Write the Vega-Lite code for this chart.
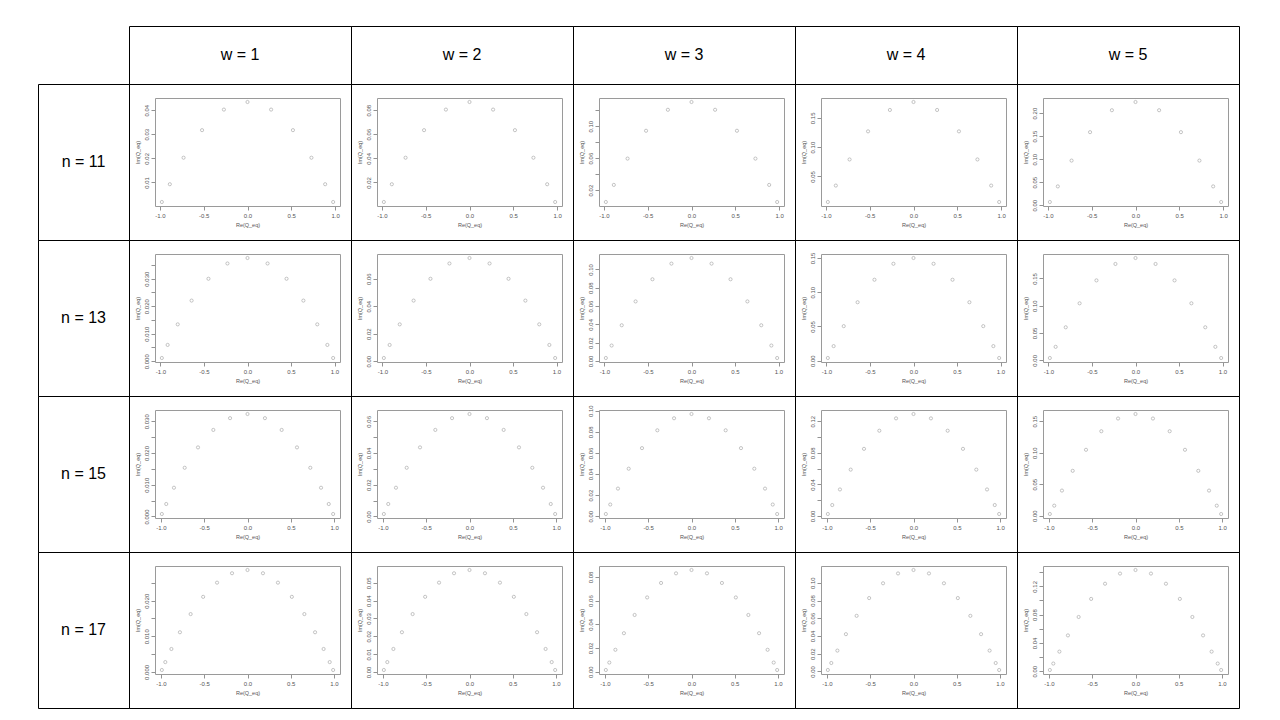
{
"$schema": "https://vega.github.io/schema/vega-lite/v6.json",
"background": "white",
"padding": {"left": 37, "top": 25, "right": 0, "bottom": 0},
"spacing": 0,
"bounds": "flush",
"columns": 6,
"datasets": {
"d11_1": [{"re":-0.9782,"im":0.00187},{"re":-0.8871,"im":0.00925},{"re":-0.7302,"im":0.02026},{"re":-0.5191,"im":0.03171},{"re":-0.2695,"im":0.04025},{"re":0,"im":0.0434},{"re":0.2695,"im":0.04025},{"re":0.5191,"im":0.03171},{"re":0.7302,"im":0.02026},{"re":0.8871,"im":0.00925},{"re":0.9782,"im":0.00187}],
"d11_2": [{"re":-0.9782,"im":0.00374},{"re":-0.8871,"im":0.01849},{"re":-0.7302,"im":0.04052},{"re":-0.5191,"im":0.06341},{"re":-0.2695,"im":0.0805},{"re":0,"im":0.0868},{"re":0.2695,"im":0.0805},{"re":0.5191,"im":0.06341},{"re":0.7302,"im":0.04052},{"re":0.8871,"im":0.01849},{"re":0.9782,"im":0.00374}],
"d11_3": [{"re":-0.9782,"im":0.00511},{"re":-0.8871,"im":0.02648},{"re":-0.7302,"im":0.05941},{"re":-0.5191,"im":0.09422},{"re":-0.2695,"im":0.12047},{"re":0,"im":0.1302},{"re":0.2695,"im":0.12047},{"re":0.5191,"im":0.09422},{"re":0.7302,"im":0.05941},{"re":0.8871,"im":0.02648},{"re":0.9782,"im":0.00511}],
"d11_4": [{"re":-0.9782,"im":0.00632},{"re":-0.8871,"im":0.03437},{"re":-0.7302,"im":0.07893},{"re":-0.5191,"im":0.12689},{"re":-0.2695,"im":0.1634},{"re":0,"im":0.177},{"re":0.2695,"im":0.1634},{"re":0.5191,"im":0.12689},{"re":0.7302,"im":0.07893},{"re":0.8871,"im":0.03437},{"re":0.9782,"im":0.00632}],
"d11_5": [{"re":-0.9782,"im":0.00705},{"re":-0.8871,"im":0.04089},{"re":-0.7302,"im":0.0969},{"re":-0.5191,"im":0.15858},{"re":-0.2695,"im":0.20617},{"re":0,"im":0.224},{"re":0.2695,"im":0.20617},{"re":0.5191,"im":0.15858},{"re":0.7302,"im":0.0969},{"re":0.8871,"im":0.04089},{"re":0.9782,"im":0.00705}],
"d13_1": [{"re":-0.9841,"im":0.00118},{"re":-0.9176,"im":0.00593},{"re":-0.8016,"im":0.0134},{"re":-0.6423,"im":0.02203},{"re":-0.4485,"im":0.02996},{"re":-0.2305,"im":0.03551},{"re":0,"im":0.0375},{"re":0.2305,"im":0.03551},{"re":0.4485,"im":0.02996},{"re":0.6423,"im":0.02203},{"re":0.8016,"im":0.0134},{"re":0.9176,"im":0.00593},{"re":0.9841,"im":0.00118}],
"d13_2": [{"re":-0.9841,"im":0.00237},{"re":-0.9176,"im":0.01185},{"re":-0.8016,"im":0.02681},{"re":-0.6423,"im":0.04406},{"re":-0.4485,"im":0.05991},{"re":-0.2305,"im":0.07102},{"re":0,"im":0.075},{"re":0.2305,"im":0.07102},{"re":0.4485,"im":0.05991},{"re":0.6423,"im":0.04406},{"re":0.8016,"im":0.02681},{"re":0.9176,"im":0.01185},{"re":0.9841,"im":0.00237}],
"d13_3": [{"re":-0.9841,"im":0.0032},{"re":-0.9176,"im":0.01682},{"re":-0.8016,"im":0.03899},{"re":-0.6423,"im":0.06504},{"re":-0.4485,"im":0.08927},{"re":-0.2305,"im":0.10635},{"re":0,"im":0.1125},{"re":0.2305,"im":0.10635},{"re":0.4485,"im":0.08927},{"re":0.6423,"im":0.06504},{"re":0.8016,"im":0.03899},{"re":0.9176,"im":0.01682},{"re":0.9841,"im":0.0032}],
"d13_4": [{"re":-0.9841,"im":0.00385},{"re":-0.9176,"im":0.02122},{"re":-0.8016,"im":0.05041},{"re":-0.6423,"im":0.08535},{"re":-0.4485,"im":0.11822},{"re":-0.2305,"im":0.14157},{"re":0,"im":0.15},{"re":0.2305,"im":0.14157},{"re":0.4485,"im":0.11822},{"re":0.6423,"im":0.08535},{"re":0.8016,"im":0.05041},{"re":0.9176,"im":0.02122},{"re":0.9841,"im":0.00385}],
"d13_5": [{"re":-0.9841,"im":0.00419},{"re":-0.9176,"im":0.02464},{"re":-0.8016,"im":0.06047},{"re":-0.6423,"im":0.10444},{"re":-0.4485,"im":0.14646},{"re":-0.2305,"im":0.17657},{"re":0,"im":0.1875},{"re":0.2305,"im":0.17657},{"re":0.4485,"im":0.14646},{"re":0.6423,"im":0.10444},{"re":0.8016,"im":0.06047},{"re":0.9176,"im":0.02464},{"re":0.9841,"im":0.00419}],
"d15_1": [{"re":-0.9879,"im":0.00078},{"re":-0.9372,"im":0.00393},{"re":-0.8482,"im":0.00906},{"re":-0.7244,"im":0.01535},{"re":-0.5709,"im":0.02177},{"re":-0.3941,"im":0.02728},{"re":-0.2012,"im":0.03099},{"re":0,"im":0.0323},{"re":0.2012,"im":0.03099},{"re":0.3941,"im":0.02728},{"re":0.5709,"im":0.02177},{"re":0.7244,"im":0.01535},{"re":0.8482,"im":0.00906},{"re":0.9372,"im":0.00393},{"re":0.9879,"im":0.00078}],
"d15_2": [{"re":-0.9879,"im":0.00155},{"re":-0.9372,"im":0.00786},{"re":-0.8482,"im":0.01812},{"re":-0.7244,"im":0.0307},{"re":-0.5709,"im":0.04355},{"re":-0.3941,"im":0.05457},{"re":-0.2012,"im":0.06199},{"re":0,"im":0.0646},{"re":0.2012,"im":0.06199},{"re":0.3941,"im":0.05457},{"re":0.5709,"im":0.04355},{"re":0.7244,"im":0.0307},{"re":0.8482,"im":0.01812},{"re":0.9372,"im":0.00786},{"re":0.9879,"im":0.00155}],
"d15_3": [{"re":-0.9879,"im":0.00208},{"re":-0.9372,"im":0.01107},{"re":-0.8482,"im":0.02617},{"re":-0.7244,"im":0.04503},{"re":-0.5709,"im":0.06455},{"re":-0.3941,"im":0.08144},{"re":-0.2012,"im":0.09286},{"re":0,"im":0.0969},{"re":0.2012,"im":0.09286},{"re":0.3941,"im":0.08144},{"re":0.5709,"im":0.06455},{"re":0.7244,"im":0.04503},{"re":0.8482,"im":0.02617},{"re":0.9372,"im":0.01107},{"re":0.9879,"im":0.00208}],
"d15_4": [{"re":-0.9879,"im":0.00249},{"re":-0.9372,"im":0.01385},{"re":-0.8482,"im":0.03359},{"re":-0.7244,"im":0.05872},{"re":-0.5709,"im":0.08505},{"re":-0.3941,"im":0.10803},{"re":-0.2012,"im":0.12366},{"re":0,"im":0.1292},{"re":0.2012,"im":0.12366},{"re":0.3941,"im":0.10803},{"re":0.5709,"im":0.08505},{"re":0.7244,"im":0.05872},{"re":0.8482,"im":0.03359},{"re":0.9372,"im":0.01385},{"re":0.9879,"im":0.00249}],
"d15_5": [{"re":-0.9879,"im":0.00268},{"re":-0.9372,"im":0.01592},{"re":-0.8482,"im":0.0399},{"re":-0.7244,"im":0.07125},{"re":-0.5709,"im":0.10465},{"re":-0.3941,"im":0.13413},{"re":-0.2012,"im":0.15433},{"re":0,"im":0.1615},{"re":0.2012,"im":0.15433},{"re":0.3941,"im":0.13413},{"re":0.5709,"im":0.10465},{"re":0.7244,"im":0.07125},{"re":0.8482,"im":0.0399},{"re":0.9372,"im":0.01592},{"re":0.9879,"im":0.00268}],
"d17_1": [{"re":-0.9906,"im":0.00054},{"re":-0.9506,"im":0.00276},{"re":-0.8802,"im":0.00644},{"re":-0.7815,"im":0.01113},{"re":-0.6577,"im":0.01623},{"re":-0.513,"im":0.02107},{"re":-0.3521,"im":0.02505},{"re":-0.1789,"im":0.02769},{"re":0,"im":0.0286},{"re":0.1789,"im":0.02769},{"re":0.3521,"im":0.02505},{"re":0.513,"im":0.02107},{"re":0.6577,"im":0.01623},{"re":0.7815,"im":0.01113},{"re":0.8802,"im":0.00644},{"re":0.9506,"im":0.00276},{"re":0.9906,"im":0.00054}],
"d17_2": [{"re":-0.9906,"im":0.00107},{"re":-0.9506,"im":0.00551},{"re":-0.8802,"im":0.01288},{"re":-0.7815,"im":0.02227},{"re":-0.6577,"im":0.03246},{"re":-0.513,"im":0.04215},{"re":-0.3521,"im":0.05011},{"re":-0.1789,"im":0.05537},{"re":0,"im":0.0572},{"re":0.1789,"im":0.05537},{"re":0.3521,"im":0.05011},{"re":0.513,"im":0.04215},{"re":0.6577,"im":0.03246},{"re":0.7815,"im":0.02227},{"re":0.8802,"im":0.01288},{"re":0.9506,"im":0.00551},{"re":0.9906,"im":0.00107}],
"d17_3": [{"re":-0.9906,"im":0.00143},{"re":-0.9506,"im":0.00771},{"re":-0.8802,"im":0.01848},{"re":-0.7815,"im":0.03247},{"re":-0.6577,"im":0.04786},{"re":-0.513,"im":0.06264},{"re":-0.3521,"im":0.07487},{"re":-0.1789,"im":0.08297},{"re":0,"im":0.0858},{"re":0.1789,"im":0.08297},{"re":0.3521,"im":0.07487},{"re":0.513,"im":0.06264},{"re":0.6577,"im":0.04786},{"re":0.7815,"im":0.03247},{"re":0.8802,"im":0.01848},{"re":0.9506,"im":0.00771},{"re":0.9906,"im":0.00143}],
"d17_4": [{"re":-0.9906,"im":0.00169},{"re":-0.9506,"im":0.00958},{"re":-0.8802,"im":0.02356},{"re":-0.7815,"im":0.04208},{"re":-0.6577,"im":0.06274},{"re":-0.513,"im":0.08276},{"re":-0.3521,"im":0.09943},{"re":-0.1789,"im":0.11052},{"re":0,"im":0.1144},{"re":0.1789,"im":0.11052},{"re":0.3521,"im":0.09943},{"re":0.513,"im":0.08276},{"re":0.6577,"im":0.06274},{"re":0.7815,"im":0.04208},{"re":0.8802,"im":0.02356},{"re":0.9506,"im":0.00958},{"re":0.9906,"im":0.00169}],
"d17_5": [{"re":-0.9906,"im":0.0018},{"re":-0.9506,"im":0.01091},{"re":-0.8802,"im":0.02775},{"re":-0.7815,"im":0.05065},{"re":-0.6577,"im":0.07667},{"re":-0.513,"im":0.1022},{"re":-0.3521,"im":0.12363},{"re":-0.1789,"im":0.13797},{"re":0,"im":0.143},{"re":0.1789,"im":0.13797},{"re":0.3521,"im":0.12363},{"re":0.513,"im":0.1022},{"re":0.6577,"im":0.07667},{"re":0.7815,"im":0.05065},{"re":0.8802,"im":0.02775},{"re":0.9506,"im":0.01091},{"re":0.9906,"im":0.0018}]
},
"concat": [
 {"width": 91, "height": 58, "view": {"stroke": null}, "data": {"values": [{"t": ""}]}, "mark": "text", "encoding": {"text": {"field": "t"}}},
 {"width": 222, "height": 58, "view": {"style": "cell", "stroke": "#000000"}, "data": {"values": [{"t": "w = 1"}]}, "mark": "text", "encoding": {"text": {"field": "t"}}},
 {"width": 222, "height": 58, "view": {"style": "cell", "stroke": "#000000"}, "data": {"values": [{"t": "w = 2"}]}, "mark": "text", "encoding": {"text": {"field": "t"}}},
 {"width": 222, "height": 58, "view": {"style": "cell", "stroke": "#000000"}, "data": {"values": [{"t": "w = 3"}]}, "mark": "text", "encoding": {"text": {"field": "t"}}},
 {"width": 222, "height": 58, "view": {"style": "cell", "stroke": "#000000"}, "data": {"values": [{"t": "w = 4"}]}, "mark": "text", "encoding": {"text": {"field": "t"}}},
 {"width": 222, "height": 58, "view": {"style": "cell", "stroke": "#000000"}, "data": {"values": [{"t": "w = 5"}]}, "mark": "text", "encoding": {"text": {"field": "t"}}},

 {"width": 91, "height": 156, "view": {"style": "cell", "stroke": "#000000"}, "data": {"values": [{"t": "n = 11"}]}, "mark": "text", "encoding": {"text": {"field": "t"}}},
 {"width": 222, "height": 156, "data": {"name": "d11_1"}, "resolve": {"axis": {"x": "independent", "y": "independent"}}, "layer": [
  {"mark": {"type": "point", "filled": false, "size": 10, "strokeWidth": 0.6, "color": "#777"}, "encoding": {
   "x": {"field": "re", "type": "quantitative", "scale": {"domain": [-1.0565, 1.0565], "range": [26, 211], "nice": false, "zero": false}, "axis": {"orient": "bottom", "title": "Re(Q_eq)", "values": [-1, -0.5, 0, 0.5, 1], "labelExpr": "(datum.value < 0 ? '-' : '') + format(abs(datum.value), '.1f')"}},
   "y": {"field": "im", "type": "quantitative", "scale": {"domain": [0.000209, 0.045061], "range": [122, 14], "nice": false, "zero": false}, "axis": {"orient": "left", "title": "Im(Q_eq)", "values": [0.01, 0.02, 0.03, 0.04], "format": ".2f"}}}},
  {"mark": {"type": "point", "opacity": 0}, "encoding": {
   "x": {"field": "re", "type": "quantitative", "scale": {"domain": [-1.0565, 1.0565], "range": [26, 211], "nice": false, "zero": false}, "axis": {"orient": "top", "title": null}},
   "y": {"field": "im", "type": "quantitative", "scale": {"domain": [0.000209, 0.045061], "range": [122, 14], "nice": false, "zero": false}, "axis": {"orient": "right", "title": null}}}}
 ]},
 {"width": 222, "height": 156, "data": {"name": "d11_2"}, "resolve": {"axis": {"x": "independent", "y": "independent"}}, "layer": [
  {"mark": {"type": "point", "filled": false, "size": 10, "strokeWidth": 0.6, "color": "#777"}, "encoding": {
   "x": {"field": "re", "type": "quantitative", "scale": {"domain": [-1.0565, 1.0565], "range": [26, 211], "nice": false, "zero": false}, "axis": {"orient": "bottom", "title": "Re(Q_eq)", "values": [-1, -0.5, 0, 0.5, 1], "labelExpr": "(datum.value < 0 ? '-' : '') + format(abs(datum.value), '.1f')"}},
   "y": {"field": "im", "type": "quantitative", "scale": {"domain": [0.000418, 0.090122], "range": [122, 14], "nice": false, "zero": false}, "axis": {"orient": "left", "title": "Im(Q_eq)", "values": [0.02, 0.04, 0.06, 0.08], "format": ".2f"}}}},
  {"mark": {"type": "point", "opacity": 0}, "encoding": {
   "x": {"field": "re", "type": "quantitative", "scale": {"domain": [-1.0565, 1.0565], "range": [26, 211], "nice": false, "zero": false}, "axis": {"orient": "top", "title": null}},
   "y": {"field": "im", "type": "quantitative", "scale": {"domain": [0.000418, 0.090122], "range": [122, 14], "nice": false, "zero": false}, "axis": {"orient": "right", "title": null}}}}
 ]},
 {"width": 222, "height": 156, "data": {"name": "d11_3"}, "resolve": {"axis": {"x": "independent", "y": "independent"}}, "layer": [
  {"mark": {"type": "point", "filled": false, "size": 10, "strokeWidth": 0.6, "color": "#777"}, "encoding": {
   "x": {"field": "re", "type": "quantitative", "scale": {"domain": [-1.0565, 1.0565], "range": [26, 211], "nice": false, "zero": false}, "axis": {"orient": "bottom", "title": "Re(Q_eq)", "values": [-1, -0.5, 0, 0.5, 1], "labelExpr": "(datum.value < 0 ? '-' : '') + format(abs(datum.value), '.1f')"}},
   "y": {"field": "im", "type": "quantitative", "scale": {"domain": [0.000106, 0.135204], "range": [122, 14], "nice": false, "zero": false}, "axis": {"orient": "left", "title": "Im(Q_eq)", "values": [0.02, 0.04, 0.06, 0.08, 0.10, 0.12], "format": ".2f", "labelExpr": "indexof(['0.02','0.06','0.10'], datum.label) >= 0 ? datum.label : ''"}}}},
  {"mark": {"type": "point", "opacity": 0}, "encoding": {
   "x": {"field": "re", "type": "quantitative", "scale": {"domain": [-1.0565, 1.0565], "range": [26, 211], "nice": false, "zero": false}, "axis": {"orient": "top", "title": null}},
   "y": {"field": "im", "type": "quantitative", "scale": {"domain": [0.000106, 0.135204], "range": [122, 14], "nice": false, "zero": false}, "axis": {"orient": "right", "title": null}}}}
 ]},
 {"width": 222, "height": 156, "data": {"name": "d11_4"}, "resolve": {"axis": {"x": "independent", "y": "independent"}}, "layer": [
  {"mark": {"type": "point", "filled": false, "size": 10, "strokeWidth": 0.6, "color": "#777"}, "encoding": {
   "x": {"field": "re", "type": "quantitative", "scale": {"domain": [-1.0565, 1.0565], "range": [26, 211], "nice": false, "zero": false}, "axis": {"orient": "bottom", "title": "Re(Q_eq)", "values": [-1, -0.5, 0, 0.5, 1], "labelExpr": "(datum.value < 0 ? '-' : '') + format(abs(datum.value), '.1f')"}},
   "y": {"field": "im", "type": "quantitative", "scale": {"domain": [-0.000507, 0.183827], "range": [122, 14], "nice": false, "zero": false}, "axis": {"orient": "left", "title": "Im(Q_eq)", "values": [0.05, 0.10, 0.15], "format": ".2f"}}}},
  {"mark": {"type": "point", "opacity": 0}, "encoding": {
   "x": {"field": "re", "type": "quantitative", "scale": {"domain": [-1.0565, 1.0565], "range": [26, 211], "nice": false, "zero": false}, "axis": {"orient": "top", "title": null}},
   "y": {"field": "im", "type": "quantitative", "scale": {"domain": [-0.000507, 0.183827], "range": [122, 14], "nice": false, "zero": false}, "axis": {"orient": "right", "title": null}}}}
 ]},
 {"width": 222, "height": 156, "data": {"name": "d11_5"}, "resolve": {"axis": {"x": "independent", "y": "independent"}}, "layer": [
  {"mark": {"type": "point", "filled": false, "size": 10, "strokeWidth": 0.6, "color": "#777"}, "encoding": {
   "x": {"field": "re", "type": "quantitative", "scale": {"domain": [-1.0565, 1.0565], "range": [26, 211], "nice": false, "zero": false}, "axis": {"orient": "bottom", "title": "Re(Q_eq)", "values": [-1, -0.5, 0, 0.5, 1], "labelExpr": "(datum.value < 0 ? '-' : '') + format(abs(datum.value), '.1f')"}},
   "y": {"field": "im", "type": "quantitative", "scale": {"domain": [-0.001628, 0.232678], "range": [122, 14], "nice": false, "zero": false}, "axis": {"orient": "left", "title": "Im(Q_eq)", "values": [0, 0.05, 0.10, 0.15, 0.20], "format": ".2f"}}}},
  {"mark": {"type": "point", "opacity": 0}, "encoding": {
   "x": {"field": "re", "type": "quantitative", "scale": {"domain": [-1.0565, 1.0565], "range": [26, 211], "nice": false, "zero": false}, "axis": {"orient": "top", "title": null}},
   "y": {"field": "im", "type": "quantitative", "scale": {"domain": [-0.001628, 0.232678], "range": [122, 14], "nice": false, "zero": false}, "axis": {"orient": "right", "title": null}}}}
 ]},

 {"width": 91, "height": 156, "view": {"style": "cell", "stroke": "#000000"}, "data": {"values": [{"t": "n = 13"}]}, "mark": "text", "encoding": {"text": {"field": "t"}}},
 {"width": 222, "height": 156, "data": {"name": "d13_1"}, "resolve": {"axis": {"x": "independent", "y": "independent"}}, "layer": [
  {"mark": {"type": "point", "filled": false, "size": 10, "strokeWidth": 0.6, "color": "#777"}, "encoding": {
   "x": {"field": "re", "type": "quantitative", "scale": {"domain": [-1.0628, 1.0628], "range": [26, 211], "nice": false, "zero": false}, "axis": {"orient": "bottom", "title": "Re(Q_eq)", "values": [-1, -0.5, 0, 0.5, 1], "labelExpr": "(datum.value < 0 ? '-' : '') + format(abs(datum.value), '.1f')"}},
   "y": {"field": "im", "type": "quantitative", "scale": {"domain": [-0.000273, 0.038953], "range": [122, 14], "nice": false, "zero": false}, "axis": {"orient": "left", "title": "Im(Q_eq)", "values": [0, 0.005, 0.01, 0.015, 0.02, 0.025, 0.03, 0.035], "format": ".3f", "labelExpr": "indexof(['0.000','0.010','0.020','0.030'], datum.label) >= 0 ? datum.label : ''"}}}},
  {"mark": {"type": "point", "opacity": 0}, "encoding": {
   "x": {"field": "re", "type": "quantitative", "scale": {"domain": [-1.0628, 1.0628], "range": [26, 211], "nice": false, "zero": false}, "axis": {"orient": "top", "title": null}},
   "y": {"field": "im", "type": "quantitative", "scale": {"domain": [-0.000273, 0.038953], "range": [122, 14], "nice": false, "zero": false}, "axis": {"orient": "right", "title": null}}}}
 ]},
 {"width": 222, "height": 156, "data": {"name": "d13_2"}, "resolve": {"axis": {"x": "independent", "y": "independent"}}, "layer": [
  {"mark": {"type": "point", "filled": false, "size": 10, "strokeWidth": 0.6, "color": "#777"}, "encoding": {
   "x": {"field": "re", "type": "quantitative", "scale": {"domain": [-1.0628, 1.0628], "range": [26, 211], "nice": false, "zero": false}, "axis": {"orient": "bottom", "title": "Re(Q_eq)", "values": [-1, -0.5, 0, 0.5, 1], "labelExpr": "(datum.value < 0 ? '-' : '') + format(abs(datum.value), '.1f')"}},
   "y": {"field": "im", "type": "quantitative", "scale": {"domain": [-0.000535, 0.077905], "range": [122, 14], "nice": false, "zero": false}, "axis": {"orient": "left", "title": "Im(Q_eq)", "values": [0, 0.02, 0.04, 0.06], "format": ".2f"}}}},
  {"mark": {"type": "point", "opacity": 0}, "encoding": {
   "x": {"field": "re", "type": "quantitative", "scale": {"domain": [-1.0628, 1.0628], "range": [26, 211], "nice": false, "zero": false}, "axis": {"orient": "top", "title": null}},
   "y": {"field": "im", "type": "quantitative", "scale": {"domain": [-0.000535, 0.077905], "range": [122, 14], "nice": false, "zero": false}, "axis": {"orient": "right", "title": null}}}}
 ]},
 {"width": 222, "height": 156, "data": {"name": "d13_3"}, "resolve": {"axis": {"x": "independent", "y": "independent"}}, "layer": [
  {"mark": {"type": "point", "filled": false, "size": 10, "strokeWidth": 0.6, "color": "#777"}, "encoding": {
   "x": {"field": "re", "type": "quantitative", "scale": {"domain": [-1.0628, 1.0628], "range": [26, 211], "nice": false, "zero": false}, "axis": {"orient": "bottom", "title": "Re(Q_eq)", "values": [-1, -0.5, 0, 0.5, 1], "labelExpr": "(datum.value < 0 ? '-' : '') + format(abs(datum.value), '.1f')"}},
   "y": {"field": "im", "type": "quantitative", "scale": {"domain": [-0.001172, 0.116872], "range": [122, 14], "nice": false, "zero": false}, "axis": {"orient": "left", "title": "Im(Q_eq)", "values": [0, 0.02, 0.04, 0.06, 0.08, 0.10], "format": ".2f"}}}},
  {"mark": {"type": "point", "opacity": 0}, "encoding": {
   "x": {"field": "re", "type": "quantitative", "scale": {"domain": [-1.0628, 1.0628], "range": [26, 211], "nice": false, "zero": false}, "axis": {"orient": "top", "title": null}},
   "y": {"field": "im", "type": "quantitative", "scale": {"domain": [-0.001172, 0.116872], "range": [122, 14], "nice": false, "zero": false}, "axis": {"orient": "right", "title": null}}}}
 ]},
 {"width": 222, "height": 156, "data": {"name": "d13_4"}, "resolve": {"axis": {"x": "independent", "y": "independent"}}, "layer": [
  {"mark": {"type": "point", "filled": false, "size": 10, "strokeWidth": 0.6, "color": "#777"}, "encoding": {
   "x": {"field": "re", "type": "quantitative", "scale": {"domain": [-1.0628, 1.0628], "range": [26, 211], "nice": false, "zero": false}, "axis": {"orient": "bottom", "title": "Re(Q_eq)", "values": [-1, -0.5, 0, 0.5, 1], "labelExpr": "(datum.value < 0 ? '-' : '') + format(abs(datum.value), '.1f')"}},
   "y": {"field": "im", "type": "quantitative", "scale": {"domain": [-0.001996, 0.155846], "range": [122, 14], "nice": false, "zero": false}, "axis": {"orient": "left", "title": "Im(Q_eq)", "values": [0, 0.05, 0.10, 0.15], "format": ".2f"}}}},
  {"mark": {"type": "point", "opacity": 0}, "encoding": {
   "x": {"field": "re", "type": "quantitative", "scale": {"domain": [-1.0628, 1.0628], "range": [26, 211], "nice": false, "zero": false}, "axis": {"orient": "top", "title": null}},
   "y": {"field": "im", "type": "quantitative", "scale": {"domain": [-0.001996, 0.155846], "range": [122, 14], "nice": false, "zero": false}, "axis": {"orient": "right", "title": null}}}}
 ]},
 {"width": 222, "height": 156, "data": {"name": "d13_5"}, "resolve": {"axis": {"x": "independent", "y": "independent"}}, "layer": [
  {"mark": {"type": "point", "filled": false, "size": 10, "strokeWidth": 0.6, "color": "#777"}, "encoding": {
   "x": {"field": "re", "type": "quantitative", "scale": {"domain": [-1.0628, 1.0628], "range": [26, 211], "nice": false, "zero": false}, "axis": {"orient": "bottom", "title": "Re(Q_eq)", "values": [-1, -0.5, 0, 0.5, 1], "labelExpr": "(datum.value < 0 ? '-' : '') + format(abs(datum.value), '.1f')"}},
   "y": {"field": "im", "type": "quantitative", "scale": {"domain": [-0.003142, 0.194832], "range": [122, 14], "nice": false, "zero": false}, "axis": {"orient": "left", "title": "Im(Q_eq)", "values": [0, 0.05, 0.10, 0.15], "format": ".2f"}}}},
  {"mark": {"type": "point", "opacity": 0}, "encoding": {
   "x": {"field": "re", "type": "quantitative", "scale": {"domain": [-1.0628, 1.0628], "range": [26, 211], "nice": false, "zero": false}, "axis": {"orient": "top", "title": null}},
   "y": {"field": "im", "type": "quantitative", "scale": {"domain": [-0.003142, 0.194832], "range": [122, 14], "nice": false, "zero": false}, "axis": {"orient": "right", "title": null}}}}
 ]},

 {"width": 91, "height": 156, "view": {"style": "cell", "stroke": "#000000"}, "data": {"values": [{"t": "n = 15"}]}, "mark": "text", "encoding": {"text": {"field": "t"}}},
 {"width": 222, "height": 156, "data": {"name": "d15_1"}, "resolve": {"axis": {"x": "independent", "y": "independent"}}, "layer": [
  {"mark": {"type": "point", "filled": false, "size": 10, "strokeWidth": 0.6, "color": "#777"}, "encoding": {
   "x": {"field": "re", "type": "quantitative", "scale": {"domain": [-1.0669, 1.0669], "range": [26, 211], "nice": false, "zero": false}, "axis": {"orient": "bottom", "title": "Re(Q_eq)", "values": [-1, -0.5, 0, 0.5, 1], "labelExpr": "(datum.value < 0 ? '-' : '') + format(abs(datum.value), '.1f')"}},
   "y": {"field": "im", "type": "quantitative", "scale": {"domain": [-0.000481, 0.033561], "range": [122, 14], "nice": false, "zero": false}, "axis": {"orient": "left", "title": "Im(Q_eq)", "values": [0, 0.005, 0.01, 0.015, 0.02, 0.025, 0.03], "format": ".3f", "labelExpr": "indexof(['0.000','0.010','0.020','0.030'], datum.label) >= 0 ? datum.label : ''"}}}},
  {"mark": {"type": "point", "opacity": 0}, "encoding": {
   "x": {"field": "re", "type": "quantitative", "scale": {"domain": [-1.0669, 1.0669], "range": [26, 211], "nice": false, "zero": false}, "axis": {"orient": "top", "title": null}},
   "y": {"field": "im", "type": "quantitative", "scale": {"domain": [-0.000481, 0.033561], "range": [122, 14], "nice": false, "zero": false}, "axis": {"orient": "right", "title": null}}}}
 ]},
 {"width": 222, "height": 156, "data": {"name": "d15_2"}, "resolve": {"axis": {"x": "independent", "y": "independent"}}, "layer": [
  {"mark": {"type": "point", "filled": false, "size": 10, "strokeWidth": 0.6, "color": "#777"}, "encoding": {
   "x": {"field": "re", "type": "quantitative", "scale": {"domain": [-1.0669, 1.0669], "range": [26, 211], "nice": false, "zero": false}, "axis": {"orient": "bottom", "title": "Re(Q_eq)", "values": [-1, -0.5, 0, 0.5, 1], "labelExpr": "(datum.value < 0 ? '-' : '') + format(abs(datum.value), '.1f')"}},
   "y": {"field": "im", "type": "quantitative", "scale": {"domain": [-0.000972, 0.067122], "range": [122, 14], "nice": false, "zero": false}, "axis": {"orient": "left", "title": "Im(Q_eq)", "values": [0, 0.01, 0.02, 0.03, 0.04, 0.05, 0.06], "format": ".2f", "labelExpr": "indexof(['0.00','0.02','0.04','0.06'], datum.label) >= 0 ? datum.label : ''"}}}},
  {"mark": {"type": "point", "opacity": 0}, "encoding": {
   "x": {"field": "re", "type": "quantitative", "scale": {"domain": [-1.0669, 1.0669], "range": [26, 211], "nice": false, "zero": false}, "axis": {"orient": "top", "title": null}},
   "y": {"field": "im", "type": "quantitative", "scale": {"domain": [-0.000972, 0.067122], "range": [122, 14], "nice": false, "zero": false}, "axis": {"orient": "right", "title": null}}}}
 ]},
 {"width": 222, "height": 156, "data": {"name": "d15_3"}, "resolve": {"axis": {"x": "independent", "y": "independent"}}, "layer": [
  {"mark": {"type": "point", "filled": false, "size": 10, "strokeWidth": 0.6, "color": "#777"}, "encoding": {
   "x": {"field": "re", "type": "quantitative", "scale": {"domain": [-1.0669, 1.0669], "range": [26, 211], "nice": false, "zero": false}, "axis": {"orient": "bottom", "title": "Re(Q_eq)", "values": [-1, -0.5, 0, 0.5, 1], "labelExpr": "(datum.value < 0 ? '-' : '') + format(abs(datum.value), '.1f')"}},
   "y": {"field": "im", "type": "quantitative", "scale": {"domain": [-0.001713, 0.100693], "range": [122, 14], "nice": false, "zero": false}, "axis": {"orient": "left", "title": "Im(Q_eq)", "values": [0, 0.02, 0.04, 0.06, 0.08, 0.10], "format": ".2f"}}}},
  {"mark": {"type": "point", "opacity": 0}, "encoding": {
   "x": {"field": "re", "type": "quantitative", "scale": {"domain": [-1.0669, 1.0669], "range": [26, 211], "nice": false, "zero": false}, "axis": {"orient": "top", "title": null}},
   "y": {"field": "im", "type": "quantitative", "scale": {"domain": [-0.001713, 0.100693], "range": [122, 14], "nice": false, "zero": false}, "axis": {"orient": "right", "title": null}}}}
 ]},
 {"width": 222, "height": 156, "data": {"name": "d15_4"}, "resolve": {"axis": {"x": "independent", "y": "independent"}}, "layer": [
  {"mark": {"type": "point", "filled": false, "size": 10, "strokeWidth": 0.6, "color": "#777"}, "encoding": {
   "x": {"field": "re", "type": "quantitative", "scale": {"domain": [-1.0669, 1.0669], "range": [26, 211], "nice": false, "zero": false}, "axis": {"orient": "bottom", "title": "Re(Q_eq)", "values": [-1, -0.5, 0, 0.5, 1], "labelExpr": "(datum.value < 0 ? '-' : '') + format(abs(datum.value), '.1f')"}},
   "y": {"field": "im", "type": "quantitative", "scale": {"domain": [-0.002578, 0.134268], "range": [122, 14], "nice": false, "zero": false}, "axis": {"orient": "left", "title": "Im(Q_eq)", "values": [0, 0.02, 0.04, 0.06, 0.08, 0.10, 0.12], "format": ".2f", "labelExpr": "indexof(['0.00','0.04','0.08','0.12'], datum.label) >= 0 ? datum.label : ''"}}}},
  {"mark": {"type": "point", "opacity": 0}, "encoding": {
   "x": {"field": "re", "type": "quantitative", "scale": {"domain": [-1.0669, 1.0669], "range": [26, 211], "nice": false, "zero": false}, "axis": {"orient": "top", "title": null}},
   "y": {"field": "im", "type": "quantitative", "scale": {"domain": [-0.002578, 0.134268], "range": [122, 14], "nice": false, "zero": false}, "axis": {"orient": "right", "title": null}}}}
 ]},
 {"width": 222, "height": 156, "data": {"name": "d15_5"}, "resolve": {"axis": {"x": "independent", "y": "independent"}}, "layer": [
  {"mark": {"type": "point", "filled": false, "size": 10, "strokeWidth": 0.6, "color": "#777"}, "encoding": {
   "x": {"field": "re", "type": "quantitative", "scale": {"domain": [-1.0669, 1.0669], "range": [26, 211], "nice": false, "zero": false}, "axis": {"orient": "bottom", "title": "Re(Q_eq)", "values": [-1, -0.5, 0, 0.5, 1], "labelExpr": "(datum.value < 0 ? '-' : '') + format(abs(datum.value), '.1f')"}},
   "y": {"field": "im", "type": "quantitative", "scale": {"domain": [-0.003673, 0.167853], "range": [122, 14], "nice": false, "zero": false}, "axis": {"orient": "left", "title": "Im(Q_eq)", "values": [0, 0.05, 0.10, 0.15], "format": ".2f"}}}},
  {"mark": {"type": "point", "opacity": 0}, "encoding": {
   "x": {"field": "re", "type": "quantitative", "scale": {"domain": [-1.0669, 1.0669], "range": [26, 211], "nice": false, "zero": false}, "axis": {"orient": "top", "title": null}},
   "y": {"field": "im", "type": "quantitative", "scale": {"domain": [-0.003673, 0.167853], "range": [122, 14], "nice": false, "zero": false}, "axis": {"orient": "right", "title": null}}}}
 ]},

 {"width": 91, "height": 156, "view": {"style": "cell", "stroke": "#000000"}, "data": {"values": [{"t": "n = 17"}]}, "mark": "text", "encoding": {"text": {"field": "t"}}},
 {"width": 222, "height": 156, "data": {"name": "d17_1"}, "resolve": {"axis": {"x": "independent", "y": "independent"}}, "layer": [
  {"mark": {"type": "point", "filled": false, "size": 10, "strokeWidth": 0.6, "color": "#777"}, "encoding": {
   "x": {"field": "re", "type": "quantitative", "scale": {"domain": [-1.0698, 1.0698], "range": [26, 211], "nice": false, "zero": false}, "axis": {"orient": "bottom", "title": "Re(Q_eq)", "values": [-1, -0.5, 0, 0.5, 1], "labelExpr": "(datum.value < 0 ? '-' : '') + format(abs(datum.value), '.1f')"}},
   "y": {"field": "im", "type": "quantitative", "scale": {"domain": [-0.000582, 0.029722], "range": [122, 14], "nice": false, "zero": false}, "axis": {"orient": "left", "title": "Im(Q_eq)", "values": [0, 0.005, 0.01, 0.015, 0.02, 0.025], "format": ".3f", "labelExpr": "indexof(['0.000','0.010','0.020'], datum.label) >= 0 ? datum.label : ''"}}}},
  {"mark": {"type": "point", "opacity": 0}, "encoding": {
   "x": {"field": "re", "type": "quantitative", "scale": {"domain": [-1.0698, 1.0698], "range": [26, 211], "nice": false, "zero": false}, "axis": {"orient": "top", "title": null}},
   "y": {"field": "im", "type": "quantitative", "scale": {"domain": [-0.000582, 0.029722], "range": [122, 14], "nice": false, "zero": false}, "axis": {"orient": "right", "title": null}}}}
 ]},
 {"width": 222, "height": 156, "data": {"name": "d17_2"}, "resolve": {"axis": {"x": "independent", "y": "independent"}}, "layer": [
  {"mark": {"type": "point", "filled": false, "size": 10, "strokeWidth": 0.6, "color": "#777"}, "encoding": {
   "x": {"field": "re", "type": "quantitative", "scale": {"domain": [-1.0698, 1.0698], "range": [26, 211], "nice": false, "zero": false}, "axis": {"orient": "bottom", "title": "Re(Q_eq)", "values": [-1, -0.5, 0, 0.5, 1], "labelExpr": "(datum.value < 0 ? '-' : '') + format(abs(datum.value), '.1f')"}},
   "y": {"field": "im", "type": "quantitative", "scale": {"domain": [-0.001175, 0.059445], "range": [122, 14], "nice": false, "zero": false}, "axis": {"orient": "left", "title": "Im(Q_eq)", "values": [0, 0.01, 0.02, 0.03, 0.04, 0.05], "format": ".2f"}}}},
  {"mark": {"type": "point", "opacity": 0}, "encoding": {
   "x": {"field": "re", "type": "quantitative", "scale": {"domain": [-1.0698, 1.0698], "range": [26, 211], "nice": false, "zero": false}, "axis": {"orient": "top", "title": null}},
   "y": {"field": "im", "type": "quantitative", "scale": {"domain": [-0.001175, 0.059445], "range": [122, 14], "nice": false, "zero": false}, "axis": {"orient": "right", "title": null}}}}
 ]},
 {"width": 222, "height": 156, "data": {"name": "d17_3"}, "resolve": {"axis": {"x": "independent", "y": "independent"}}, "layer": [
  {"mark": {"type": "point", "filled": false, "size": 10, "strokeWidth": 0.6, "color": "#777"}, "encoding": {
   "x": {"field": "re", "type": "quantitative", "scale": {"domain": [-1.0698, 1.0698], "range": [26, 211], "nice": false, "zero": false}, "axis": {"orient": "bottom", "title": "Re(Q_eq)", "values": [-1, -0.5, 0, 0.5, 1], "labelExpr": "(datum.value < 0 ? '-' : '') + format(abs(datum.value), '.1f')"}},
   "y": {"field": "im", "type": "quantitative", "scale": {"domain": [-0.001945, 0.089175], "range": [122, 14], "nice": false, "zero": false}, "axis": {"orient": "left", "title": "Im(Q_eq)", "values": [0, 0.02, 0.04, 0.06, 0.08], "format": ".2f"}}}},
  {"mark": {"type": "point", "opacity": 0}, "encoding": {
   "x": {"field": "re", "type": "quantitative", "scale": {"domain": [-1.0698, 1.0698], "range": [26, 211], "nice": false, "zero": false}, "axis": {"orient": "top", "title": null}},
   "y": {"field": "im", "type": "quantitative", "scale": {"domain": [-0.001945, 0.089175], "range": [122, 14], "nice": false, "zero": false}, "axis": {"orient": "right", "title": null}}}}
 ]},
 {"width": 222, "height": 156, "data": {"name": "d17_4"}, "resolve": {"axis": {"x": "independent", "y": "independent"}}, "layer": [
  {"mark": {"type": "point", "filled": false, "size": 10, "strokeWidth": 0.6, "color": "#777"}, "encoding": {
   "x": {"field": "re", "type": "quantitative", "scale": {"domain": [-1.0698, 1.0698], "range": [26, 211], "nice": false, "zero": false}, "axis": {"orient": "bottom", "title": "Re(Q_eq)", "values": [-1, -0.5, 0, 0.5, 1], "labelExpr": "(datum.value < 0 ? '-' : '') + format(abs(datum.value), '.1f')"}},
   "y": {"field": "im", "type": "quantitative", "scale": {"domain": [-0.002818, 0.118908], "range": [122, 14], "nice": false, "zero": false}, "axis": {"orient": "left", "title": "Im(Q_eq)", "values": [0, 0.02, 0.04, 0.06, 0.08, 0.10], "format": ".2f"}}}},
  {"mark": {"type": "point", "opacity": 0}, "encoding": {
   "x": {"field": "re", "type": "quantitative", "scale": {"domain": [-1.0698, 1.0698], "range": [26, 211], "nice": false, "zero": false}, "axis": {"orient": "top", "title": null}},
   "y": {"field": "im", "type": "quantitative", "scale": {"domain": [-0.002818, 0.118908], "range": [122, 14], "nice": false, "zero": false}, "axis": {"orient": "right", "title": null}}}}
 ]},
 {"width": 222, "height": 156, "data": {"name": "d17_5"}, "resolve": {"axis": {"x": "independent", "y": "independent"}}, "layer": [
  {"mark": {"type": "point", "filled": false, "size": 10, "strokeWidth": 0.6, "color": "#777"}, "encoding": {
   "x": {"field": "re", "type": "quantitative", "scale": {"domain": [-1.0698, 1.0698], "range": [26, 211], "nice": false, "zero": false}, "axis": {"orient": "bottom", "title": "Re(Q_eq)", "values": [-1, -0.5, 0, 0.5, 1], "labelExpr": "(datum.value < 0 ? '-' : '') + format(abs(datum.value), '.1f')"}},
   "y": {"field": "im", "type": "quantitative", "scale": {"domain": [-0.003848, 0.148648], "range": [122, 14], "nice": false, "zero": false}, "axis": {"orient": "left", "title": "Im(Q_eq)", "values": [0, 0.02, 0.04, 0.06, 0.08, 0.10, 0.12, 0.14], "format": ".2f", "labelExpr": "indexof(['0.00','0.04','0.08','0.12'], datum.label) >= 0 ? datum.label : ''"}}}},
  {"mark": {"type": "point", "opacity": 0}, "encoding": {
   "x": {"field": "re", "type": "quantitative", "scale": {"domain": [-1.0698, 1.0698], "range": [26, 211], "nice": false, "zero": false}, "axis": {"orient": "top", "title": null}},
   "y": {"field": "im", "type": "quantitative", "scale": {"domain": [-0.003848, 0.148648], "range": [122, 14], "nice": false, "zero": false}, "axis": {"orient": "right", "title": null}}}}
 ]}
],
"config": {
 "view": {"stroke": "#000000", "strokeWidth": 1},
 "concat": {"spacing": 0},
 "text": {"font": "Liberation Sans", "fontSize": 16, "color": "#000000"},
 "axis": {"labelFont": "Liberation Sans", "titleFont": "Liberation Sans", "labelColor": "#555555", "titleColor": "#555555", "domainColor": "#9a9a9a", "domainWidth": 1, "tickColor": "#777777", "tickWidth": 0.8, "tickSize": 4, "labelFontSize": 6, "titleFontSize": 5.5, "titleFontWeight": "normal", "grid": false, "labelPadding": 2, "labelOverlap": false, "labelFlush": false, "labelBound": false},
 "axisBottom": {"offset": -34, "titlePadding": 4},
 "axisLeft": {"offset": -26, "labelAngle": -90, "labelAlign": "center", "labelBaseline": "bottom", "titlePadding": 3},
 "axisTop": {"offset": -14, "ticks": false, "labels": false},
 "axisRight": {"offset": -11, "ticks": false, "labels": false}
}
}
